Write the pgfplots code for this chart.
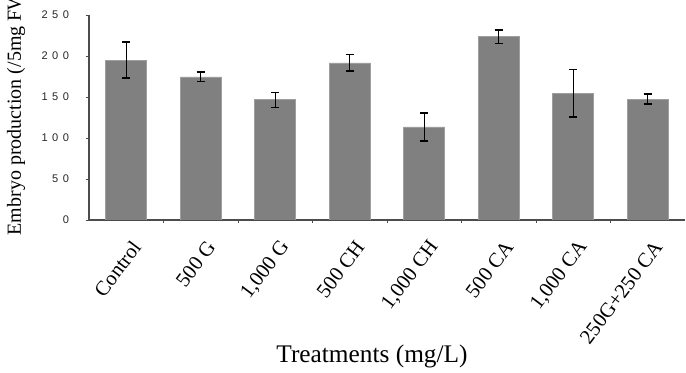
\documentclass[border=0pt]{standalone}
\usepackage{pgfplots}
\pgfplotsset{compat=1.18}
\usepackage{fontspec}
\setmainfont{Liberation Serif}
\newfontfamily\tickfont{Liberation Sans}[LetterSpace=40]

\begin{document}
\begin{tikzpicture}
\begin{axis}[
  scale only axis, width=447pt, height=153.75pt,
  xmin=-0.5, xmax=7.5, ymin=0, ymax=250,
  axis x line*=bottom, axis y line*=left,
  axis line style={draw=black!70, line width=0.9pt},
  tick align=outside, major tick length=2.5pt, minor tick length=2pt,
  tick style={black!70, line width=0.6pt},
  ytick={0,50,...,250},
  /pgf/number format/assume math mode=true,
  yticklabel style={font=\tickfont\fontsize{8.3}{10}\selectfont, text=black!85, xshift=-9pt},
  xtick={0.14,1.14,...,7.14},
  xticklabels={Control,500 G,{1,000 G},500 CH,{1,000 CH},500 CA,{1,000 CA},250G+250 CA},
  major x tick style={draw=none},
  minor xtick={0.5,1.5,...,6.5},
  xticklabel style={yshift=-15pt, rotate=53, anchor=east, inner sep=0pt,
    font=\fontsize{15.5}{18}\selectfont},
]
\addplot[ybar, bar width=0.55, fill=black!50, draw=black!38, line width=0.6pt,
  error bars/.cd, y dir=both, y explicit,
  error bar style={black, line width=1pt},
  error mark options={rotate=90, mark size=3pt, line width=1pt, black}]
  coordinates {
    (0,195)   +- (0,22)
    (1,174.5) +- (0,6)
    (2,146.5) +- (0,9)
    (3,191.5) +- (0,10)
    (4,113.5) +- (0,17)
    (5,223.5) +- (0,8)
    (6,154.5) +- (0,29)
    (7,147.5) +- (0,6)
  };
\end{axis}
\node[rotate=90, anchor=base west, font=\fontsize{15}{17}\selectfont]
  at (-51pt,-15pt) {Embryo production (/5mg FW)};
\node[font=\fontsize{19}{21}\selectfont] at (212.25pt,-102pt) {Treatments (mg/L)};
\pgfresetboundingbox
\useasboundingbox (-66.75pt,-114.75pt) rectangle (447.75pt,165pt);
\end{tikzpicture}
\end{document}
